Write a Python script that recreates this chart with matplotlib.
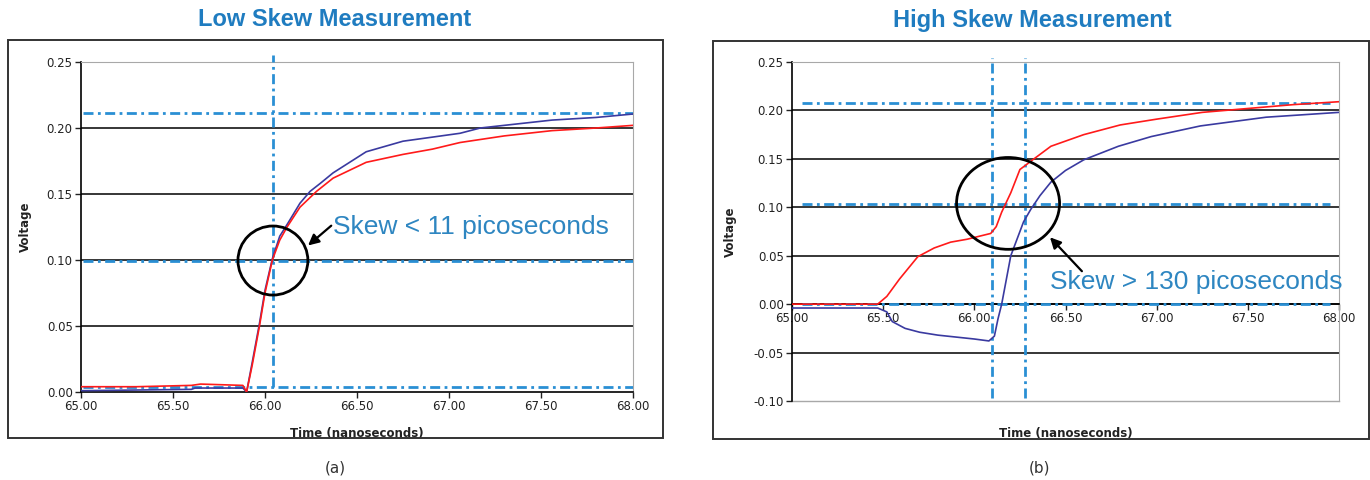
import matplotlib
matplotlib.use("Agg")
from matplotlib import pyplot as plt
from matplotlib.patches import Ellipse, Rectangle

# (a) low skew: both channels switch together
low_t_red = [65.00, 65.30, 65.60, 65.65, 65.88, 65.90, 65.93, 65.97, 66.00, 66.04,
             66.08, 66.12, 66.19, 66.28, 66.37, 66.55, 66.75, 66.91, 67.06, 67.30,
             67.56, 67.80, 68.00]
low_v_red = [0.004, 0.004, 0.005, 0.006, 0.005, 0.000, 0.020, 0.050, 0.075, 0.100,
             0.115, 0.125, 0.140, 0.152, 0.162, 0.174, 0.180, 0.184, 0.189, 0.194,
             0.198, 0.200, 0.202]
low_t_blue = [65.00, 65.60, 65.62, 65.88, 65.90, 65.93, 65.97, 66.00, 66.04, 66.08,
              66.125, 66.19, 66.245, 66.30, 66.37, 66.55, 66.75, 67.06, 67.17, 67.56,
              67.80, 68.00]
low_v_blue = [0.001, 0.002, 0.003, 0.003, 0.000, 0.022, 0.052, 0.077, 0.101, 0.118,
              0.128, 0.143, 0.152, 0.158, 0.166, 0.182, 0.190, 0.196, 0.200, 0.206,
              0.208, 0.2106]
low_levels = [0.2114, 0.0995, 0.004]
low_cursors = [66.043]
low_cursor_span = [0.004, 0.2553]

# (b) high skew: blue lags red
high_t_red = [65.00, 65.47, 65.52, 65.59, 65.69, 65.78, 65.87, 65.96, 66.09, 66.12,
              66.15, 66.20, 66.25, 66.32, 66.42, 66.60, 66.80, 67.00, 67.25, 67.50,
              67.75, 68.00]
high_v_red = [0.000, 0.000, 0.008, 0.026, 0.049, 0.058, 0.064, 0.067, 0.073, 0.080,
              0.095, 0.115, 0.139, 0.149, 0.163, 0.175, 0.185, 0.191, 0.198, 0.202,
              0.206, 0.209]
high_t_blue = [65.00, 65.47, 65.52, 65.55, 65.62, 65.70, 65.80, 65.90, 66.00, 66.08,
               66.11, 66.13, 66.15, 66.18, 66.20, 66.23, 66.27, 66.31, 66.36, 66.42,
               66.50, 66.60, 66.79, 66.97, 67.24, 67.60, 68.00]
high_v_blue = [-0.004, -0.004, -0.008, -0.018, -0.025, -0.029, -0.032, -0.034, -0.036, -0.038,
               -0.033, -0.015, 0.000, 0.030, 0.050, 0.065, 0.085, 0.098, 0.112, 0.126,
               0.138, 0.149, 0.163, 0.173, 0.184, 0.193, 0.198]
high_levels = [0.208, 0.1036, 0.0]
high_cursors = [66.097, 66.28]
high_cursor_span = [-0.097, 0.2546]

x_ticks = [65.0, 65.5, 66.0, 66.5, 67.0, 67.5, 68.0]
x_ticklabels = ["65.00", "65.50", "66.00", "66.50", "67.00", "67.50", "68.00"]

RED = "#ff1a1a"
BLUE = "#3a3aa0"
CURSOR = "#2a8fd4"
NOTE = "#2e86c1"
TITLE = "#1f7cc0"
W, H = 1370, 480


def _rect(x0, y0, x1, y1):
    # pixel box (top-left origin) -> figure fraction rect
    return [x0 / W, 1 - y1 / H, (x1 - x0) / W, (y1 - y0) / H]


def _frame(fig, x0, y0, x1, y1):
    r = _rect(x0, y0, x1, y1)
    fig.patches.append(Rectangle((r[0], r[1]), r[2], r[3], transform=fig.transFigure,
                                 fill=False, ec="#333333", lw=1.4))


def _axes(fig, box, ylim, yticks):
    ax = fig.add_axes(_rect(*box))
    ax.set_xlim(65, 68)
    ax.set_ylim(*ylim)
    ax.set_xticks(x_ticks, x_ticklabels)
    ax.set_yticks(yticks, ["%.2f" % v for v in yticks])
    ax.tick_params(labelsize=8.5, colors="#222222", length=4, width=1, pad=2)
    for v in yticks[1:-1]:
        ax.axhline(v, color="black", lw=1.1, zorder=1)
    for s in ("top", "right"):
        ax.spines[s].set_color("#a8a8a8")
    ax.spines["left"].set_linewidth(1.2)
    ax.spines["bottom"].set_linewidth(1.2)
    ax.set_ylabel("Voltage", fontsize=8.5, fontweight="bold", color="#222222")
    ax.set_xlabel("Time (nanoseconds)", fontsize=8.5, fontweight="bold", color="#222222")
    return ax


def _cursors(ax, levels, t0, t1, cursors, span):
    dash = dict(color=CURSOR, lw=2, linestyle=(0, (3.6, 1.6, 1.0, 1.6)), zorder=3)
    for v in levels:
        ax.plot([t0, t1], [v, v], **dash)
    for t in cursors:
        ax.plot([t, t], span, clip_on=False, **dash)


def _draw():
    fig = plt.figure(figsize=(13.7, 4.8), dpi=100)

    # (a)
    _frame(fig, 8, 40, 663, 438)
    ax = _axes(fig, (81, 62, 633, 392), (0, 0.25), [0, 0.05, 0.10, 0.15, 0.20, 0.25])
    ax.xaxis.set_label_coords(0.5, -0.105)
    ax.yaxis.set_label_coords(-0.088, 0.5)
    _cursors(ax, low_levels, 65.01, 68.0, low_cursors, low_cursor_span)
    ax.plot(low_t_blue, low_v_blue, color=BLUE, lw=1.2, zorder=4)
    ax.plot(low_t_red, low_v_red, color=RED, lw=1.2, zorder=4)
    ax.add_patch(Ellipse((66.043, 0.0996), 0.38, 0.0523, fill=False, ec="black",
                         lw=2, zorder=5, clip_on=False))
    ax.annotate("", xy=(66.234, 0.111), xytext=(66.36, 0.126),
                arrowprops=dict(arrowstyle="-|>", color="black", lw=1.6,
                                mutation_scale=16, shrinkA=0, shrinkB=0))
    ax.text(66.37, 0.125, "Skew < 11 picoseconds", color=NOTE, fontsize=19,
            family="Liberation Sans", va="center", ha="left")
    fig.text(335 / W, 1 - 20 / H, "Low Skew Measurement", color=TITLE, fontsize=17,
             fontweight="bold", family="Liberation Sans", ha="center", va="center")
    fig.text(335 / W, 1 - 468 / H, "(a)", color="#333333", fontsize=11,
             ha="center", va="center")

    # (b)
    _frame(fig, 713, 41, 1369, 439)
    ax = _axes(fig, (792, 62, 1339, 401), (-0.10, 0.25),
               [-0.10, -0.05, 0, 0.05, 0.10, 0.15, 0.20, 0.25])
    ax.spines["bottom"].set_position(("data", 0))
    ax.axhline(-0.10, color="#a8a8a8", lw=1, clip_on=False)
    ax.xaxis.set_label_coords(0.5, -0.077)
    ax.yaxis.set_label_coords(-0.10, 0.5)
    _cursors(ax, high_levels, 65.055, 67.95, high_cursors, high_cursor_span)
    ax.plot(high_t_blue, high_v_blue, color=BLUE, lw=1.2, zorder=4)
    ax.plot(high_t_red, high_v_red, color=RED, lw=1.2, zorder=4)
    ax.add_patch(Ellipse((66.185, 0.104), 0.565, 0.0948, fill=False, ec="black",
                         lw=2, zorder=5, clip_on=False))
    ax.annotate("", xy=(66.415, 0.069), xytext=(66.59, 0.034),
                arrowprops=dict(arrowstyle="-|>", color="black", lw=1.6,
                                mutation_scale=16, shrinkA=0, shrinkB=0))
    ax.text(66.415, 0.0227, "Skew > 130 picoseconds", color=NOTE, fontsize=19,
            family="Liberation Sans", va="center", ha="left")
    fig.text(1032 / W, 1 - 20 / H, "High Skew Measurement", color=TITLE, fontsize=17,
             fontweight="bold", family="Liberation Sans", ha="center", va="center")
    fig.text(1040 / W, 1 - 468 / H, "(b)", color="#333333", fontsize=11,
             ha="center", va="center")

    fig.savefig("out.png", dpi=100)


def go():
    _draw()


go()
